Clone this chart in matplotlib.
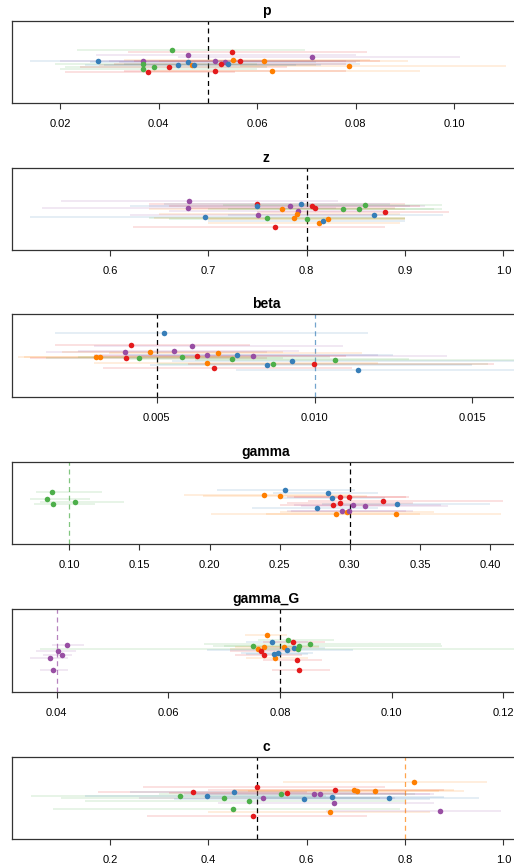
import matplotlib.pyplot as plt

plt.rcParams['font.family'] = ['Liberation Sans', 'DejaVu Sans']

# Set1 colours, one per model
pal = {"r": "#E41A1C", "b": "#377EB8", "g": "#4DAF4A", "p": "#984EA3", "o": "#FF7F00"}

# ---- p ----
p_grp = "gprpbpbppbororobbgggrrroo"
p_est = [0.0427, 0.0459, 0.0549, 0.0711, 0.0278, 0.0369, 0.0459, 0.0515, 0.0536, 0.0542, 0.0552, 0.0565, 0.0615,
         0.0526, 0.0469, 0.0473, 0.0439, 0.0390, 0.0368, 0.0369, 0.0421, 0.0379, 0.0515, 0.0631, 0.0787]
p_lo = [0.0235, 0.0273, 0.0339, 0.0440, 0.0139, 0.0200, 0.0260, 0.0300, 0.0320, 0.0330, 0.0330, 0.0350, 0.0400,
        0.0310, 0.0280, 0.0290, 0.0250, 0.0210, 0.0190, 0.0200, 0.0240, 0.0210, 0.0330, 0.0370, 0.0566]
p_hi = [0.0697, 0.0800, 0.0823, 0.1012, 0.0809, 0.0620, 0.0720, 0.0780, 0.0800, 0.0810, 0.0830, 0.0850, 0.0907,
        0.0780, 0.0720, 0.0730, 0.0680, 0.0620, 0.0600, 0.0600, 0.0660, 0.0555, 0.0780, 0.0931, 0.1106]
p_jit = [0.642, 0.589, 0.622, 0.561, 0.508, 0.508, 0.500, 0.516, 0.504, 0.480, 0.528, 0.516, 0.508,
         0.480, 0.467, 0.459, 0.459, 0.439, 0.472, 0.410, 0.439, 0.382, 0.394, 0.394, 0.455]

# ---- z ----
z_grp = "ppbrbpbopoorrgggrbpggobor"
z_est = [0.6807, 0.679, 0.697, 0.750, 0.749, 0.783, 0.794, 0.775, 0.791, 0.790, 0.787, 0.805, 0.808,
         0.837, 0.853, 0.859, 0.880, 0.869, 0.751, 0.760, 0.800, 0.813, 0.817, 0.822, 0.768]
z_lo = [0.550, 0.531, 0.519, 0.640, 0.620, 0.640, 0.655, 0.640, 0.660, 0.650, 0.645, 0.660, 0.680,
        0.700, 0.720, 0.715, 0.750, 0.720, 0.620, 0.640, 0.660, 0.700, 0.700, 0.700, 0.623]
z_hi = [0.832, 0.830, 0.870, 0.900, 0.905, 0.920, 0.885, 0.900, 0.880, 0.895, 0.900, 0.915, 0.890,
        0.938, 0.930, 0.938, 0.945, 0.939, 0.880, 0.900, 0.900, 0.895, 0.900, 0.900, 0.880]
z_jit = [0.599, 0.514, 0.405, 0.559, 0.538, 0.534, 0.559, 0.494, 0.474, 0.445, 0.393, 0.534, 0.518,
         0.506, 0.506, 0.543, 0.466, 0.425, 0.421, 0.385, 0.372, 0.332, 0.356, 0.372, 0.279]

# ---- beta ----
beta_grp = "brppoppobpoorggrgorbgbrgb"
beta_est = [0.00523, 0.00419, 0.00611, 0.00400, 0.00479, 0.00556, 0.00660, 0.00695, 0.00753, 0.00806, 0.00309,
            0.00320, 0.00402, 0.00444, 0.00579, 0.00627, 0.00740, 0.00660, 0.00683, 0.00851, 0.00867, 0.00929,
            0.00999, 0.01064, 0.01137]
beta_lo = [0.00178, 0.00178, 0.0030, 0.0015, 0.0020, 0.0025, 0.0030, 0.0035, 0.0040, 0.0045, 0.0006,
           0.0008, 0.0010, 0.0015, 0.0025, 0.0030, 0.0040, 0.0030, 0.0033, 0.0048, 0.0050, 0.0055,
           0.0060, 0.0062, 0.0075]
beta_hi = [0.0117, 0.00796, 0.0109, 0.0085, 0.0090, 0.0095, 0.0120, 0.0115, 0.0125, 0.0142, 0.0075,
           0.0080, 0.0085, 0.0090, 0.0105, 0.0110, 0.0130, 0.0120, 0.0112, 0.0150, 0.0155, 0.0165,
           0.0157, 0.0170, 0.0170]
beta_jit = [0.775, 0.622, 0.618, 0.542, 0.546, 0.558, 0.510, 0.530, 0.502, 0.490, 0.482,
            0.486, 0.470, 0.474, 0.482, 0.494, 0.462, 0.414, 0.353, 0.386, 0.398, 0.430,
            0.398, 0.442, 0.329]

# ---- gamma ----
gamma_grp = "ggggbboobrrrrrbppbpoopo"
gamma_est = [0.0874, 0.0841, 0.0884, 0.104, 0.2536, 0.2847, 0.239, 0.250, 0.2875, 0.293, 0.2995, 0.324,
             0.293, 0.288, 0.2769, 0.3025, 0.3108, 0.3334, 0.2942, 0.2904, 0.2978, 0.2992, 0.333]
gamma_lo = [0.076, 0.072, 0.075, 0.079, 0.205, 0.245, 0.182, 0.195, 0.250, 0.255, 0.260, 0.270,
            0.255, 0.250, 0.230, 0.260, 0.265, 0.280, 0.255, 0.240, 0.250, 0.258, 0.201]
gamma_hi = [0.123, 0.115, 0.118, 0.139, 0.304, 0.320, 0.300, 0.312, 0.325, 0.340, 0.342, 0.409,
            0.345, 0.335, 0.320, 0.365, 0.370, 0.400, 0.340, 0.350, 0.360, 0.345, 0.408]
gamma_jit = [0.629, 0.551, 0.490, 0.510, 0.661, 0.616, 0.592, 0.584, 0.555, 0.571, 0.571, 0.522,
             0.502, 0.473, 0.445, 0.478, 0.465, 0.482, 0.400, 0.371, 0.388, 0.404, 0.371]

# ---- gamma_G ----
gG_grp = "pppppobgrgggoooobgbrrbbrr"
gG_est = [0.04185, 0.0403, 0.0410, 0.03875, 0.0394, 0.0776, 0.0785, 0.0814, 0.0824, 0.0853, 0.0835, 0.0752,
          0.0771, 0.0760, 0.0807, 0.0792, 0.0826, 0.0833, 0.0813, 0.0766, 0.0772, 0.0789, 0.0796, 0.0831, 0.0835]
gG_lo = [0.0391, 0.0363, 0.0375, 0.0353, 0.0371, 0.0737, 0.0740, 0.0760, 0.0770, 0.0664, 0.0700, 0.0680,
         0.0720, 0.0710, 0.0750, 0.0740, 0.0770, 0.0370, 0.0670, 0.0710, 0.0720, 0.0740, 0.0730, 0.0770, 0.0785]
gG_hi = [0.0449, 0.0435, 0.0428, 0.0421, 0.0420, 0.0812, 0.0850, 0.0896, 0.0880, 0.1088, 0.1090, 0.0870,
         0.0840, 0.0830, 0.0870, 0.0850, 0.0880, 0.1240, 0.0930, 0.0830, 0.0840, 0.0850, 0.0860, 0.0875, 0.0890]
gG_jit = [0.571, 0.494, 0.449, 0.409, 0.271, 0.692, 0.603, 0.628, 0.603, 0.575, 0.551, 0.551,
          0.538, 0.514, 0.547, 0.409, 0.534, 0.514, 0.506, 0.490, 0.449, 0.453, 0.474, 0.389, 0.271]

# ---- c ----
c_grp = "orrbrooorgppgbgpbbbgpgopr"
c_est = [0.8183, 0.4997, 0.368, 0.452, 0.657, 0.697, 0.702, 0.740, 0.561, 0.548, 0.614, 0.627, 0.343,
         0.397, 0.431, 0.512, 0.594, 0.652, 0.767, 0.482, 0.656, 0.450, 0.647, 0.871, 0.4915]
c_lo = [0.5525, 0.268, 0.175, 0.240, 0.400, 0.450, 0.460, 0.480, 0.320, 0.300, 0.350, 0.370, 0.040,
        0.150, 0.100, 0.260, 0.330, 0.400, 0.500, 0.150, 0.420, 0.085, 0.400, 0.640, 0.275]
c_hi = [0.966, 0.759, 0.600, 0.700, 0.880, 0.900, 0.920, 0.870, 0.800, 0.820, 0.850, 0.860, 0.640,
        0.660, 0.750, 0.780, 0.850, 0.880, 0.950, 0.800, 0.860, 0.790, 0.850, 0.995, 0.722]
c_jit = [0.700, 0.636, 0.579, 0.575, 0.595, 0.595, 0.583, 0.591, 0.563, 0.543, 0.547, 0.543, 0.530,
         0.522, 0.502, 0.506, 0.486, 0.514, 0.498, 0.466, 0.437, 0.368, 0.332, 0.340, 0.279]

panels = [
    ("p", p_grp, p_est, p_lo, p_hi, p_jit, [(0.05, "k")], (0.01025, 0.1134),
     [0.02, 0.04, 0.06, 0.08, 0.10], ["0.02", "0.04", "0.06", "0.08", "0.10"]),
    ("z", z_grp, z_est, z_lo, z_hi, z_jit, [(0.8, "k")], (0.5003, 1.017),
     [0.6, 0.7, 0.8, 0.9, 1.0], ["0.6", "0.7", "0.8", "0.9", "1.0"]),
    ("beta", beta_grp, beta_est, beta_lo, beta_hi, beta_jit, [(0.005, "k"), (0.010, "b")], (0.000415, 0.01651),
     [0.005, 0.010, 0.015], ["0.005", "0.010", "0.015"]),
    ("gamma", gamma_grp, gamma_est, gamma_lo, gamma_hi, gamma_jit, [(0.30, "k"), (0.10, "g")], (0.0591, 0.4214),
     [0.10, 0.15, 0.20, 0.25, 0.30, 0.35, 0.40], ["0.10", "0.15", "0.20", "0.25", "0.30", "0.35", "0.40"]),
    ("gamma_G", gG_grp, gG_est, gG_lo, gG_hi, gG_jit, [(0.08, "k"), (0.04, "p")], (0.032, 0.123),
     [0.04, 0.06, 0.08, 0.10, 0.12], ["0.04", "0.06", "0.08", "0.10", "0.12"]),
    ("c", c_grp, c_est, c_lo, c_hi, c_jit, [(0.5, "k"), (0.8, "o")], (0.0007, 1.034),
     [0.2, 0.4, 0.6, 0.8, 1.0], ["0.2", "0.4", "0.6", "0.8", "1.0"]),
]

# box top / bottom in pixels
boxes = [(21, 103), (168, 250), (314, 397), (462, 544), (609, 692), (757, 839)]

W, H = 514, 865
fig = plt.figure(figsize=(W / 100, H / 100), dpi=100)

for (name, grp, est, lo, hi, jit, truth, xl, ticks, labels), (top, bot) in zip(panels, boxes):
    ax = fig.add_axes([12 / W, 1 - bot / H, (520 - 12) / W, (bot - top) / H])
    for t, col in truth:
        if col == "k":
            ax.axvline(t, color="black", lw=0.9, ls=(0, (4, 3)), zorder=1)
        else:
            ax.axvline(t, color=pal[col], lw=0.9, ls=(0, (4, 3)), alpha=0.7, zorder=1)
    for g, x, a, b, y in zip(grp, est, lo, hi, jit):
        ax.hlines(y, a, b, color=pal[g], alpha=0.17, lw=1.1, zorder=2)
    for g, x, y in zip(grp, est, jit):
        ax.plot(x, y, "o", ms=4.0, color=pal[g], mew=0, zorder=3)
    ax.set_xlim(xl)
    ax.set_ylim(0, 1)
    ax.set_yticks([])
    ax.set_xticks(ticks)
    ax.set_xticklabels(labels)
    ax.tick_params(axis="x", length=4.3, width=0.8, color="#333333", labelsize=8, pad=7)
    for s in ax.spines.values():
        s.set_color("#333333")
        s.set_linewidth(0.9)
    ax.set_title(name, fontweight="bold", fontsize=10, pad=4.5)

fig.savefig("out.png", dpi=100)
